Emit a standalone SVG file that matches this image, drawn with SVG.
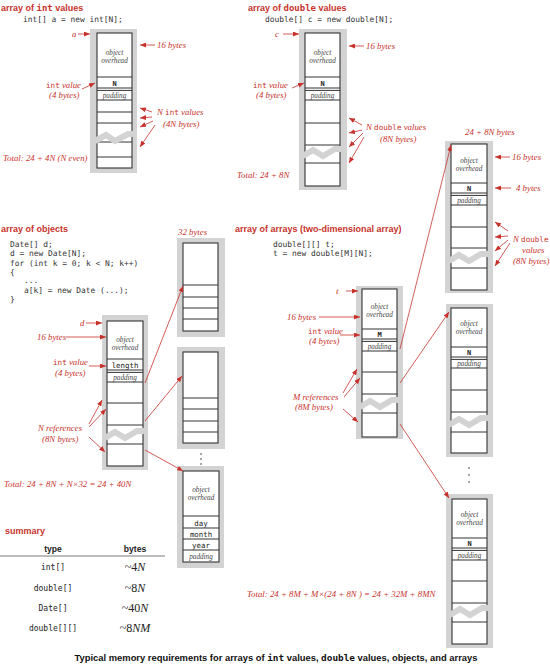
<svg xmlns="http://www.w3.org/2000/svg" width="550" height="666" viewBox="0 0 550 666">
<style>
.bg{fill:#fff}
.gr{fill:#d3d3d3}
.bx{fill:#fff;stroke:#333;stroke-width:1.1}
.ln{stroke:#333;stroke-width:1;fill:none}
.zz{fill:none;stroke:#d3d3d3;stroke-width:6;stroke-linejoin:miter}
.ttl{font-family:"Liberation Sans",Arial,sans-serif;font-weight:bold;font-size:9px;fill:#c8322c}
.tm{font-family:"DejaVu Sans Mono","Liberation Mono",monospace;font-weight:bold}
.code{font-family:"DejaVu Sans Mono","Liberation Mono",monospace;font-size:7.9px;fill:#333}
.lb{font-family:"Liberation Serif","Times New Roman",serif;font-style:italic;font-size:8.8px;fill:#c8322c}
.lm{font-family:"DejaVu Sans Mono","Liberation Mono",monospace;font-style:normal;font-size:7.6px}
.in{font-family:"Liberation Serif","Times New Roman",serif;font-style:italic;font-size:7.2px;fill:#444;text-anchor:middle}
.im{font-family:"DejaVu Sans Mono","Liberation Mono",monospace;font-size:7.4px;fill:#222;text-anchor:middle}
.imb{font-family:"DejaVu Sans Mono","Liberation Mono",monospace;font-size:7px;font-weight:bold;fill:#222;text-anchor:middle}
.ar{stroke:#c8322c;stroke-width:0.8;fill:none;marker-end:url(#ah)}
.th{font-family:"Liberation Sans",Arial,sans-serif;font-weight:bold;font-size:8.6px;fill:#222;text-anchor:middle}
.tc{font-family:"DejaVu Sans Mono","Liberation Mono",monospace;font-size:8px;fill:#222;text-anchor:middle}
.tb{font-family:"Liberation Serif","Times New Roman",serif;font-size:12px;fill:#222;text-anchor:middle}
.cap{font-family:"Liberation Sans",Arial,sans-serif;font-weight:bold;font-size:9.4px;fill:#111;text-anchor:middle}
.dot{fill:#333}
</style>
<defs>
<marker id="ah" markerUnits="userSpaceOnUse" markerWidth="6" markerHeight="5" refX="6" refY="2.5" orient="auto">
<path d="M0,0 L6,2.5 L0,5 z" fill="#c8322c"/>
</marker>
</defs>
<rect class="bg" x="0" y="0" width="550" height="666"/>

<!-- array of int values -->
<g id="int-title">
<text class="ttl" x="1" y="11">array of <tspan class="tm">int</tspan> values</text>
<text class="code" x="23" y="22">int[] a = new int[N];</text>
</g>
<g id="int-array">
<rect class="gr" x="90" y="29" width="47" height="144"/>
<rect class="bx" x="97" y="33" width="35" height="135"/>
<path class="ln" d="M97,77H132M97,88H132M97,90.4H132M97,100H132M97,112H132M97,123H132M97,142H132M97,157H132"/>
<polyline class="zz" points="95,141 106,135 115,141 128,134 134,134"/>
<text class="in" x="114.5" y="55">object</text>
<text class="in" x="114.5" y="63">overhead</text>
<text class="imb" x="114.5" y="85.5">N</text>
<text class="in" x="114.5" y="97.8">padding</text>
</g>
<g id="int-labels">
<text class="lb" x="72" y="37">a</text>
<text class="lb" x="157" y="48">16 bytes</text>
<text class="lb" x="46" y="88"><tspan class="lm">int</tspan> value</text>
<text class="lb" x="49" y="98">(4 bytes)</text>
<text class="lb" x="157" y="115">N <tspan class="lm">int</tspan> values</text>
<text class="lb" x="163" y="127">(4N bytes)</text>
<text class="lb" x="3" y="161">Total: 24 + 4N (N even)</text>
</g>

<!-- array of double values -->
<g id="double-title">
<text class="ttl" x="248" y="11">array of <tspan class="tm">double</tspan> values</text>
<text class="code" x="265" y="22">double[] c = new double[N];</text>
</g>
<g id="double-array">
<rect class="gr" x="299" y="29" width="48" height="161"/>
<rect class="bx" x="305" y="33" width="35" height="153"/>
<path class="ln" d="M305,77H340M305,88H340M305,90.4H340M305,100H340M305,123H340M305,145H340M305,163H340"/>
<polyline class="zz" points="303,156 313,150 323,156 335,149 342,149"/>
<text class="in" x="322.5" y="55">object</text>
<text class="in" x="322.5" y="63">overhead</text>
<text class="imb" x="322.5" y="85.5">N</text>
<text class="in" x="322.5" y="97.8">padding</text>
</g>
<g id="double-labels">
<text class="lb" x="275" y="37">c</text>
<text class="lb" x="366" y="49">16 bytes</text>
<text class="lb" x="253" y="88"><tspan class="lm">int</tspan> value</text>
<text class="lb" x="256" y="98">(4 bytes)</text>
<text class="lb" x="366" y="130">N <tspan class="lm">double</tspan> values</text>
<text class="lb" x="380" y="142">(8N bytes)</text>
<text class="lb" x="237" y="178">Total: 24 + 8N</text>
</g>

<!-- array of objects -->
<g id="objects-title">
<text class="ttl" x="1" y="232">array of objects</text>
<text class="code" x="10" y="247">Date[] d;</text>
<text class="code" x="10" y="256">d = new Date[N];</text>
<text class="code" x="10" y="266">for (int k = 0; k &lt; N; k++)</text>
<text class="code" x="10" y="275">{</text>
<text class="code" x="24" y="283">...</text>
<text class="code" x="24" y="293">a[k] = new Date (...);</text>
<text class="code" x="10" y="302">}</text>
</g>
<g id="objects-array">
<rect class="gr" x="102" y="315" width="46" height="155"/>
<rect class="bx" x="107" y="321" width="36" height="145"/>
<path class="ln" d="M107,359H143M107,370H143M107,372.4H143M107,382H143M107,403H143M107,425H143M107,444H143"/>
<polyline class="zz" points="105,438 115,432 125,438 137,431 145,431"/>
<text class="in" x="125" y="342">object</text>
<text class="in" x="125" y="350">overhead</text>
<text class="im" x="125" y="368">length</text>
<text class="in" x="125" y="379.8">padding</text>
</g>
<g id="objects-labels">
<text class="lb" x="80" y="326">d</text>
<text class="lb" x="37" y="340">16 bytes</text>
<text class="lb" x="53" y="365"><tspan class="lm">int</tspan> value</text>
<text class="lb" x="55" y="376">(4 bytes)</text>
<text class="lb" x="38" y="431">N references</text>
<text class="lb" x="42" y="442">(8N bytes)</text>
<text class="lb" x="4" y="487">Total: 24 + 8N + N×32 = 24 + 40N</text>
<text class="lb" x="178" y="235">32 bytes</text>
</g>
<g id="date1">
<rect class="gr" x="177" y="238" width="48" height="99"/>
<rect class="bx" x="183" y="243" width="35" height="88"/>
<path class="ln" d="M183,285H218M183,297H218M183,308H218M183,319H218"/>
</g>
<g id="date2">
<rect class="gr" x="177" y="347" width="48" height="102"/>
<rect class="bx" x="183" y="352" width="35" height="91"/>
<path class="ln" d="M183,398H218M183,409H218M183,421H218M183,432H218"/>
</g>
<g id="date-dots">
<circle class="dot" cx="201" cy="454" r="0.8"/>
<circle class="dot" cx="201" cy="459" r="0.8"/>
<circle class="dot" cx="201" cy="464" r="0.8"/>
</g>
<g id="date3">
<rect class="gr" x="177" y="466" width="47" height="102"/>
<rect class="bx" x="183" y="471" width="36" height="91"/>
<path class="ln" d="M183,516H219M183,528H219M183,539H219M183,550H219"/>
<text class="in" x="201" y="492">object</text>
<text class="in" x="201" y="500">overhead</text>
<text class="im" x="201" y="525.5">day</text>
<text class="im" x="201" y="537">month</text>
<text class="im" x="201" y="548">year</text>
<text class="in" x="201" y="559">padding</text>
</g>

<!-- array of arrays -->
<g id="arrays-title">
<text class="ttl" x="235" y="232">array of arrays (two-dimensional array)</text>
<text class="code" x="273" y="247">double[][] t;</text>
<text class="code" x="273" y="256">t = new double[M][N];</text>
</g>
<g id="arrays-array">
<rect class="gr" x="356" y="286" width="47" height="153"/>
<rect class="bx" x="362" y="289" width="35" height="148"/>
<path class="ln" d="M362,329H397M362,339H397M362,341.4H397M362,351H397M362,372H397M362,394H397M362,413H397"/>
<polyline class="zz" points="360,407 370,401 380,407 392,400 399,400"/>
<text class="in" x="379.5" y="309">object</text>
<text class="in" x="379.5" y="317">overhead</text>
<text class="imb" x="379.5" y="337">M</text>
<text class="in" x="379.5" y="348.8">padding</text>
</g>
<g id="arrays-labels">
<text class="lb" x="336" y="294">t</text>
<text class="lb" x="287" y="320">16 bytes</text>
<text class="lb" x="308" y="334"><tspan class="lm">int</tspan> value</text>
<text class="lb" x="309" y="344">(4 bytes)</text>
<text class="lb" x="293" y="400">M references</text>
<text class="lb" x="295" y="410">(8M bytes)</text>
<text class="lb" x="247" y="597">Total: 24 + 8M + M×(24 + 8N ) = 24 + 32M + 8MN</text>
</g>
<g id="row1">
<text class="lb" x="465" y="135">24  + 8N bytes</text>
<rect class="gr" x="445" y="141" width="48" height="152"/>
<rect class="bx" x="451" y="144" width="36" height="146"/>
<path class="ln" d="M451,183H487M451,193H487M451,195.4H487M451,205H487M451,227H487M451,248H487M451,268H487"/>
<polyline class="zz" points="449,261 459,255 469,261 481,254 489,254"/>
<text class="in" x="469" y="163">object</text>
<text class="in" x="469" y="171">overhead</text>
<text class="imb" x="469" y="191">N</text>
<text class="in" x="469" y="202.8">padding</text>
<text class="lb" x="512" y="160">16 bytes</text>
<text class="lb" x="516" y="191">4 bytes</text>
<text class="lb" x="513" y="242">N <tspan class="lm">double</tspan></text>
<text class="lb" x="522" y="253">values</text>
<text class="lb" x="513" y="264">(8N bytes)</text>
</g>
<g id="row2">
<rect class="gr" x="446" y="304" width="47" height="153"/>
<rect class="bx" x="451" y="308" width="36" height="145"/>
<path class="ln" d="M451,347H487M451,357H487M451,359.4H487M451,368H487M451,390H487M451,412H487M451,432H487"/>
<polyline class="zz" points="449,425 459,419 469,425 481,418 489,418"/>
<text class="in" x="469" y="326">object</text>
<text class="in" x="469" y="334">overhead</text>
<text class="imb" x="469" y="355">N</text>
<text class="in" x="469" y="366">padding</text>
</g>
<g id="row-dots">
<circle class="dot" cx="469" cy="468" r="0.8"/>
<circle class="dot" cx="469" cy="475" r="0.8"/>
<circle class="dot" cx="469" cy="482" r="0.8"/>
</g>
<g id="row3">
<rect class="gr" x="446" y="494" width="47" height="154"/>
<rect class="bx" x="452" y="499" width="35" height="145"/>
<path class="ln" d="M452,538H487M452,548H487M452,550.4H487M452,560H487M452,581H487M452,603H487M452,622H487"/>
<polyline class="zz" points="450,615 460,609 470,615 482,608 489,608"/>
<text class="in" x="469.5" y="517">object</text>
<text class="in" x="469.5" y="525">overhead</text>
<text class="imb" x="469.5" y="546">N</text>
<text class="in" x="469.5" y="557.8">padding</text>
</g>

<g id="connectors">
<path class="ar" d="M78,34L90,34"/>
<path class="ar" d="M155,45L140,45"/>
<path class="ar" d="M82,89L95,83"/>
<path class="ar" d="M152,112L140,108"/>
<path class="ar" d="M152,117L140,118"/>
<path class="ar" d="M153,121L140,127"/>
<path class="ar" d="M155,125L140,147"/>
<path class="ar" d="M283,34L299,34"/>
<path class="ar" d="M364,46L349,46"/>
<path class="ar" d="M292,88L304,83"/>
<path class="ar" d="M362,125L349,118"/>
<path class="ar" d="M362,130L349,133"/>
<path class="ar" d="M363,133L349,147"/>
<path class="ar" d="M364,137L349,163"/>
<path class="ar" d="M510,157L495,157"/>
<path class="ar" d="M511,188L495,188"/>
<path class="ar" d="M508,231L495,222"/>
<path class="ar" d="M508,236L495,237"/>
<path class="ar" d="M508,240L495,251"/>
<path class="ar" d="M510,243L495,266"/>
<path class="ar" d="M86,323L102,323"/>
<path class="ar" d="M66,337L106,337"/>
<path class="ar" d="M89,366L106,366"/>
<path class="ar" d="M89,424L102,400"/>
<path class="ar" d="M89,427L106,409"/>
<path class="ar" d="M89,437L105,452"/>
<path class="ar" d="M145,383L183,286"/>
<path class="ar" d="M145,421L182,376"/>
<path class="ar" d="M145,450L183,471"/>
<path class="ar" d="M346,291L358,291"/>
<path class="ar" d="M319,317L360,317"/>
<path class="ar" d="M340,335L360,335"/>
<path class="ar" d="M343,393L357,369"/>
<path class="ar" d="M344,397L360,378"/>
<path class="ar" d="M343,409L358,422"/>
<path class="ar" d="M400,349L451,145"/>
<path class="ar" d="M400,383L449,312"/>
<path class="ar" d="M400,424L449,498"/>
</g>

<g id="summary">
<text class="ttl" x="5" y="534">summary</text>
<text class="th" x="53" y="552">type</text>
<text class="th" x="135" y="552">bytes</text>
<path d="M0,556H165" stroke="#555" stroke-width="0.8"/>
<text class="tc" x="53" y="570">int[]</text>
<text class="tc" x="53" y="591">double[]</text>
<text class="tc" x="53" y="611">Date[]</text>
<text class="tc" x="53" y="631">double[][]</text>
<text class="tb" x="135" y="571">~4<tspan font-style="italic">N</tspan></text>
<text class="tb" x="135" y="592">~8<tspan font-style="italic">N</tspan></text>
<text class="tb" x="135" y="612">~40<tspan font-style="italic">N</tspan></text>
<text class="tb" x="135" y="632">~8<tspan font-style="italic">NM</tspan></text>
</g>

<g id="caption">
<text class="cap" x="276" y="661">Typical memory requirements for arrays of <tspan class="tm">int</tspan> values, <tspan class="tm">double</tspan> values, objects, and arrays</text>
</g>
</svg>
